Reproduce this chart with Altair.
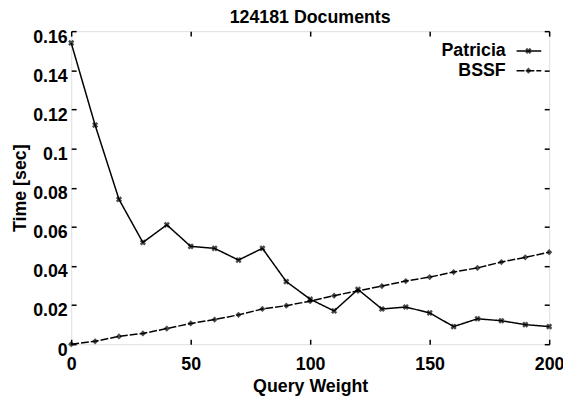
import altair as alt
import pandas as pd

# ---------------- data ----------------
query_weight = [0, 10, 20, 30, 40, 50, 60, 70, 80, 90, 100,
                110, 120, 130, 140, 150, 160, 170, 180, 190, 200]
patricia = [0.154, 0.112, 0.074, 0.052, 0.061, 0.050, 0.049, 0.043, 0.049, 0.032, 0.023,
            0.017, 0.028, 0.018, 0.019, 0.016, 0.009, 0.013, 0.012, 0.010, 0.009]
bssf = [0.0, 0.0015, 0.004, 0.0055, 0.008, 0.0106, 0.0126, 0.015, 0.018, 0.0197, 0.022,
        0.0248, 0.0273, 0.0297, 0.0323, 0.0343, 0.0369, 0.039, 0.042, 0.0444, 0.047]
series_names = ["Patricia", "BSSF"]
x_ticks = [0, 50, 100, 150, 200]
y_ticks = [0, 0.02, 0.04, 0.06, 0.08, 0.1, 0.12, 0.14, 0.16]
title_text = "124181 Documents"

rows = []
for name, vals in zip(series_names, [patricia, bssf]):
    for q, t in zip(query_weight, vals):
        rows.append({"weight": q, "time": t, "series": name})
df = pd.DataFrame(rows)

# ---------------- style ----------------
FONT = "Liberation Sans"
FS = 18
FW = "bold"
W, H = 484, 317
TICK = 5
DASH = [8, 2]

x_scale = alt.Scale(domain=[0, 200], nice=False, zero=False)
y_scale = alt.Scale(domain=[0, 0.16], nice=False)
dash_scale = alt.Scale(domain=series_names, range=[[1, 0], DASH])
shape_scale = alt.Scale(domain=series_names, range=["cross", "diamond"])

x_main = alt.Axis(orient="bottom", values=x_ticks, ticks=False, domain=False, grid=False,
                  labelFont=FONT, labelFontSize=FS, labelFontWeight=FW, labelColor="black",
                  labelPadding=12, labelFlush=False, labelOverlap=False,
                  title="Query Weight", titleFont=FONT, titleFontSize=FS,
                  titleFontWeight=FW, titleColor="black", titlePadding=4)
y_main = alt.Axis(orient="left", values=y_ticks, ticks=False, domain=False, grid=False,
                  format="~g", labelFont=FONT, labelFontSize=FS, labelFontWeight=FW,
                  labelColor="black", labelPadding=4, labelOffset=6, labelFlush=False,
                  labelOverlap=False,
                  title="Time [sec]", titleFont=FONT, titleFontSize=FS,
                  titleFontWeight=FW, titleColor="black", titlePadding=3)


def tick_axis(orient, values):
    return alt.Axis(orient=orient, values=values, labels=False, domain=False, grid=False,
                    ticks=True, tickSize=TICK, tickWidth=1.5, tickColor="black",
                    offset=-TICK, title=None)


lines = alt.Chart(df).mark_line(color="black", strokeWidth=1.5).encode(
    x=alt.X("weight:Q", scale=x_scale, axis=x_main),
    y=alt.Y("time:Q", scale=y_scale, axis=y_main),
    strokeDash=alt.StrokeDash("series:N", scale=dash_scale, legend=None),
    detail="series:N",
)

points = alt.Chart(df).mark_point(color="black", filled=True, size=40, strokeWidth=1.5).encode(
    x=alt.X("weight:Q", scale=x_scale, axis=None),
    y=alt.Y("time:Q", scale=y_scale, axis=None),
    shape=alt.Shape("series:N", scale=shape_scale, legend=None),
    angle=alt.Angle("series:N", scale=alt.Scale(domain=series_names, range=[45, 0]), legend=None),
)

ticks_a = alt.Chart(df).mark_point(opacity=0).encode(
    x=alt.X("weight:Q", scale=x_scale, axis=tick_axis("bottom", x_ticks)),
    y=alt.Y("time:Q", scale=y_scale, axis=tick_axis("left", y_ticks)),
)
ticks_b = alt.Chart(df).mark_point(opacity=0).encode(
    x=alt.X("weight:Q", scale=x_scale, axis=tick_axis("top", x_ticks)),
    y=alt.Y("time:Q", scale=y_scale, axis=tick_axis("right", y_ticks)),
)

# ---------------- legend (inside, top-right) ----------------
leg_y = [20, 40]
leg_text_x = 440
leg_line = (451, 476)
leg_mark_x = 463
legend_layers = []
for i, name in enumerate(series_names):
    ldf = pd.DataFrame({"label": [name]})
    legend_layers.append(
        alt.Chart(ldf).mark_text(align="right", baseline="middle", font=FONT, fontSize=FS,
                                 fontWeight=FW, color="black").encode(
            text="label:N", x=alt.value(leg_text_x), y=alt.value(leg_y[i]))
    )
    legend_layers.append(
        alt.Chart(ldf).mark_rule(color="black", strokeWidth=1.5,
                                 strokeDash=[1, 0] if i == 0 else DASH).encode(
            x=alt.value(leg_line[0]), x2=alt.value(leg_line[1]), y=alt.value(leg_y[i]))
    )
    legend_layers.append(
        alt.Chart(ldf).mark_point(color="black", filled=True, size=40,
                                  shape="cross" if i == 0 else "diamond",
                                  angle=45 if i == 0 else 0).encode(
            x=alt.value(leg_mark_x), y=alt.value(leg_y[i]))
    )

chart = alt.layer(lines, points, ticks_a, ticks_b, *legend_layers).resolve_axis(
    x="independent", y="independent"
).properties(
    width=W, height=H,
    title=alt.TitleParams(title_text, font=FONT, fontSize=FS, fontWeight=FW,
                          color="black", anchor="middle", offset=1),
    autosize=alt.AutoSizeParams(type="none"),
    padding={"left": 64, "top": 21, "right": 14, "bottom": 50},
).configure_view(stroke="black", strokeWidth=2).configure(background="white")

chart.save("out.html", embed_options={"renderer": "svg", "actions": False})
